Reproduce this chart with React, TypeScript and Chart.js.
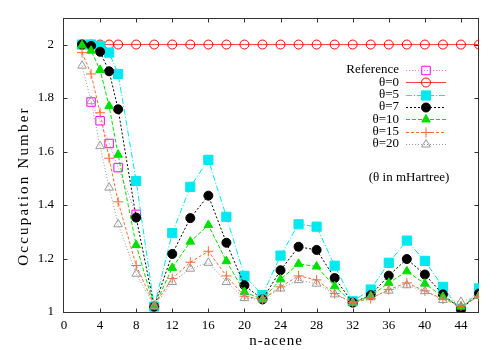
import React, { useEffect, useRef } from 'react';
import { Chart, registerables } from 'chart.js';
import { drawPoint } from 'chart.js/helpers';

Chart.register(...registerables);

// ---------- data ----------
const nAcene = [2, 3, 4, 5, 6, 8, 10, 12, 14, 16, 18, 20, 22, 24, 26, 28, 30, 32, 34, 36, 38, 40, 42, 44, 46];

const refN = [3, 4, 5, 6, 8];
const refValues = [1.785, 1.715, 1.63, 1.54, 1.365];

const theta0 = [2, 2, 2, 2, 2, 2, 2, 2, 2, 2, 2, 2, 2, 2, 2, 2, 2, 2, 2, 2, 2, 2, 2, 2, 2];
const theta5 = [2.0, 2.0, 1.995, 1.97, 1.89, 1.49, 1.02, 1.295, 1.468, 1.569, 1.356, 1.135, 1.063, 1.211, 1.328, 1.319, 1.173, 1.04, 1.084, 1.184, 1.267, 1.191, 1.094, 1.003, 1.088];
const theta7 = [2.0, 1.995, 1.973, 1.9, 1.758, 1.353, 1.02, 1.217, 1.351, 1.435, 1.259, 1.1, 1.047, 1.156, 1.244, 1.232, 1.127, 1.035, 1.063, 1.136, 1.198, 1.14, 1.066, 1.01, 1.069];
const theta10 = [1.997, 1.977, 1.905, 1.77, 1.588, 1.25, 1.02, 1.165, 1.263, 1.325, 1.19, 1.075, 1.047, 1.122, 1.18, 1.17, 1.096, 1.035, 1.06, 1.109, 1.152, 1.106, 1.057, 1.02, 1.06];
const theta15 = [1.97, 1.89, 1.745, 1.575, 1.412, 1.174, 1.026, 1.125, 1.186, 1.227, 1.135, 1.059, 1.047, 1.094, 1.135, 1.12, 1.069, 1.035, 1.05, 1.084, 1.109, 1.079, 1.048, 1.022, 1.058];
const theta20 = [1.921, 1.788, 1.62, 1.465, 1.328, 1.143, 1.022, 1.112, 1.162, 1.184, 1.112, 1.052, 1.047, 1.088, 1.119, 1.106, 1.066, 1.035, 1.055, 1.08, 1.1, 1.078, 1.045, 1.038, 1.06];

const xTickValues = [0, 4, 8, 12, 16, 20, 24, 28, 32, 36, 40, 44];
const yTickValues = [1, 1.2, 1.4, 1.6, 1.8, 2];

const seriesLabels = ['Reference', 'θ=0', 'θ=5', 'θ=7', 'θ=10', 'θ=15', 'θ=20'];
const xTitle = 'n-acene';
const yTitle = 'Occupation Number';
const note = '(θ in mHartree)';

const FONT = '"Liberation Serif", "Times New Roman", serif';

const toPoints = (xs: number[], ys: number[]) => xs.map((x, i) => ({ x, y: ys[i] }));

// ---------- plugins ----------
const framePlugin = {
  id: 'frame',
  beforeDatasetsDraw(chart: any) {
    const { ctx, chartArea } = chart;
    const { left, right, top, bottom } = chartArea;
    const xs = chart.scales.x;
    const ys = chart.scales.y;
    ctx.save();
    ctx.strokeStyle = '#333';
    ctx.lineWidth = 1;
    const L = Math.round(left) - 0.5;
    const R = Math.round(right) - 0.5;
    const T = Math.round(top) + 0.5;
    const B = Math.round(bottom) + 0.5;
    ctx.strokeRect(L, T, R - L, B - T);
    const len = 4;
    ctx.beginPath();
    xs.ticks.forEach((t: any) => {
      const p = Math.round(xs.getPixelForValue(t.value)) + 0.5;
      if (p <= L + 1 || p >= R - 1) return;
      ctx.moveTo(p, B);
      ctx.lineTo(p, B - len);
      ctx.moveTo(p, T);
      ctx.lineTo(p, T + len);
    });
    ys.ticks.forEach((t: any) => {
      const p = Math.round(ys.getPixelForValue(t.value)) + 0.5;
      if (p <= T + 1 || p >= B - 1) return;
      ctx.moveTo(L, p);
      ctx.lineTo(L + len, p);
      ctx.moveTo(R, p);
      ctx.lineTo(R - len, p);
    });
    ctx.stroke();

    // axis titles (gnuplot-like wide spacing)
    ctx.fillStyle = '#000';
    ctx.font = `15px ${FONT}`;
    ctx.textAlign = 'center';
    ctx.textBaseline = 'middle';
    (ctx as any).letterSpacing = '1px';
    ctx.fillText(xTitle, 276, 341);
    (ctx as any).letterSpacing = '2.2px';
    ctx.translate(24, 186);
    ctx.rotate(-Math.PI / 2);
    ctx.fillText(yTitle, 0, 0);
    (ctx as any).letterSpacing = '0px';
    ctx.restore();
  },
};

const keyPlugin = {
  id: 'gnuKey',
  afterDraw(chart: any) {
    const { ctx } = chart;
    const textRight = 399;
    const lineStart = 406;
    const lineEnd = 446;
    const y0 = 70;
    const dy = 12.3;
    ctx.save();
    ctx.font = `13px ${FONT}`;
    ctx.textAlign = 'right';
    ctx.textBaseline = 'middle';
    chart.data.datasets.forEach((ds: any, i: number) => {
      const y = y0 + i * dy;
      ctx.fillStyle = '#000';
      ctx.fillText(ds.label, textRight, y);
      ctx.save();
      ctx.strokeStyle = ds.borderColor;
      ctx.lineWidth = ds.borderWidth;
      ctx.setLineDash(ds.borderDash || []);
      ctx.beginPath();
      ctx.moveTo(lineStart, Math.round(y) + 0.5);
      ctx.lineTo(lineEnd, Math.round(y) + 0.5);
      ctx.stroke();
      ctx.restore();
      ctx.save();
      ctx.strokeStyle = ds.pointBorderColor;
      ctx.fillStyle = ds.pointBackgroundColor;
      ctx.lineWidth = ds.pointBorderWidth;
      drawPoint(ctx, { pointStyle: ds.pointStyle, radius: ds.pointRadius, rotation: 0, borderWidth: ds.pointBorderWidth }, (lineStart + lineEnd) / 2, Math.round(y) + 0.5);
      ctx.restore();
    });
    ctx.textAlign = 'center';
    ctx.fillStyle = '#000';
    ctx.fillText(note, 409, 178);
    ctx.restore();
  },
};

export default function App() {
  const ref = useRef<HTMLCanvasElement | null>(null);

  useEffect(() => {
    if (!ref.current) return;
    const mk = (
      label: string,
      data: any[],
      color: string,
      lineColor: string,
      dash: number[],
      style: string,
      radius: number,
      fill: string
    ) => ({
      label,
      data,
      borderColor: lineColor,
      borderWidth: 1,
      borderDash: dash,
      pointStyle: style,
      pointRadius: radius,
      pointHoverRadius: radius,
      pointBorderColor: color,
      pointBackgroundColor: fill,
      pointBorderWidth: 1,
      tension: 0,
      fill: false,
    });

    const datasets: any[] = [
      mk(seriesLabels[0], toPoints(refN, refValues), '#ff00ff', '#ff66ff', [1, 2], 'rect', 6, 'rgba(0,0,0,0)'),
      mk(seriesLabels[1], toPoints(nAcene, theta0), '#ff0000', '#ff4040', [], 'circle', 4.5, 'rgba(0,0,0,0)'),
      mk(seriesLabels[2], toPoints(nAcene, theta5), '#00e8f0', '#00e8f0', [6, 2, 1, 2], 'rect', 6.5, '#00e8f0'),
      mk(seriesLabels[3], toPoints(nAcene, theta7), '#000000', '#000000', [2, 2], 'circle', 4.5, '#000000'),
      mk(seriesLabels[4], toPoints(nAcene, theta10), '#00e000', '#00e000', [4, 2], 'triangle', 5, '#00e000'),
      mk(seriesLabels[5], toPoints(nAcene, theta15), '#ff6a33', '#ff6a33', [3, 2], 'cross', 5, '#ff6a33'),
      mk(seriesLabels[6], toPoints(nAcene, theta20), '#999999', '#999999', [1, 2], 'triangle', 5, 'rgba(0,0,0,0)'),
    ];
    datasets.forEach((d, i) => (d.order = datasets.length - 1 - i));

    const chart = new Chart(ref.current, {
      type: 'line',
      data: { datasets },
      plugins: [framePlugin, keyPlugin],
      options: {
        animation: false,
        responsive: false,
        layout: { padding: { top: 15, right: 21, left: 0, bottom: 0 } },
        plugins: { legend: { display: false }, tooltip: { enabled: false } },
        scales: {
          x: {
            type: 'linear',
            min: 0,
            max: 46,
            afterBuildTicks: (s: any) => {
              s.ticks = xTickValues.map((v) => ({ value: v }));
            },
            afterFit: (s: any) => {
              s.height = 38;
            },
            grid: { display: false, drawTicks: false },
            border: { display: false },
            ticks: {
              padding: 6,
              color: '#000',
              font: { family: FONT, size: 13 },
              maxRotation: 0,
              autoSkip: false,
              callback: (v: any) => String(v),
            },
            title: { display: false },
          },
          y: {
            type: 'linear',
            min: 1,
            max: 2.1,
            afterBuildTicks: (s: any) => {
              s.ticks = yTickValues.map((v) => ({ value: v }));
            },
            afterFit: (s: any) => {
              s.width = 64;
            },
            grid: { display: false, drawTicks: false },
            border: { display: false },
            ticks: {
              padding: 10,
              color: '#000',
              font: { family: FONT, size: 13 },
              autoSkip: false,
              callback: (v: any) => String(Math.round(Number(v) * 10) / 10),
            },
            title: { display: false },
          },
        },
      } as any,
    });
    return () => chart.destroy();
  }, []);

  return (
    <div style={{ position: 'absolute', left: 0, top: 0, width: 500, height: 350, background: '#fff' }}>
      <canvas ref={ref} width={500} height={350} style={{ width: 500, height: 350 }} />
    </div>
  );
}
